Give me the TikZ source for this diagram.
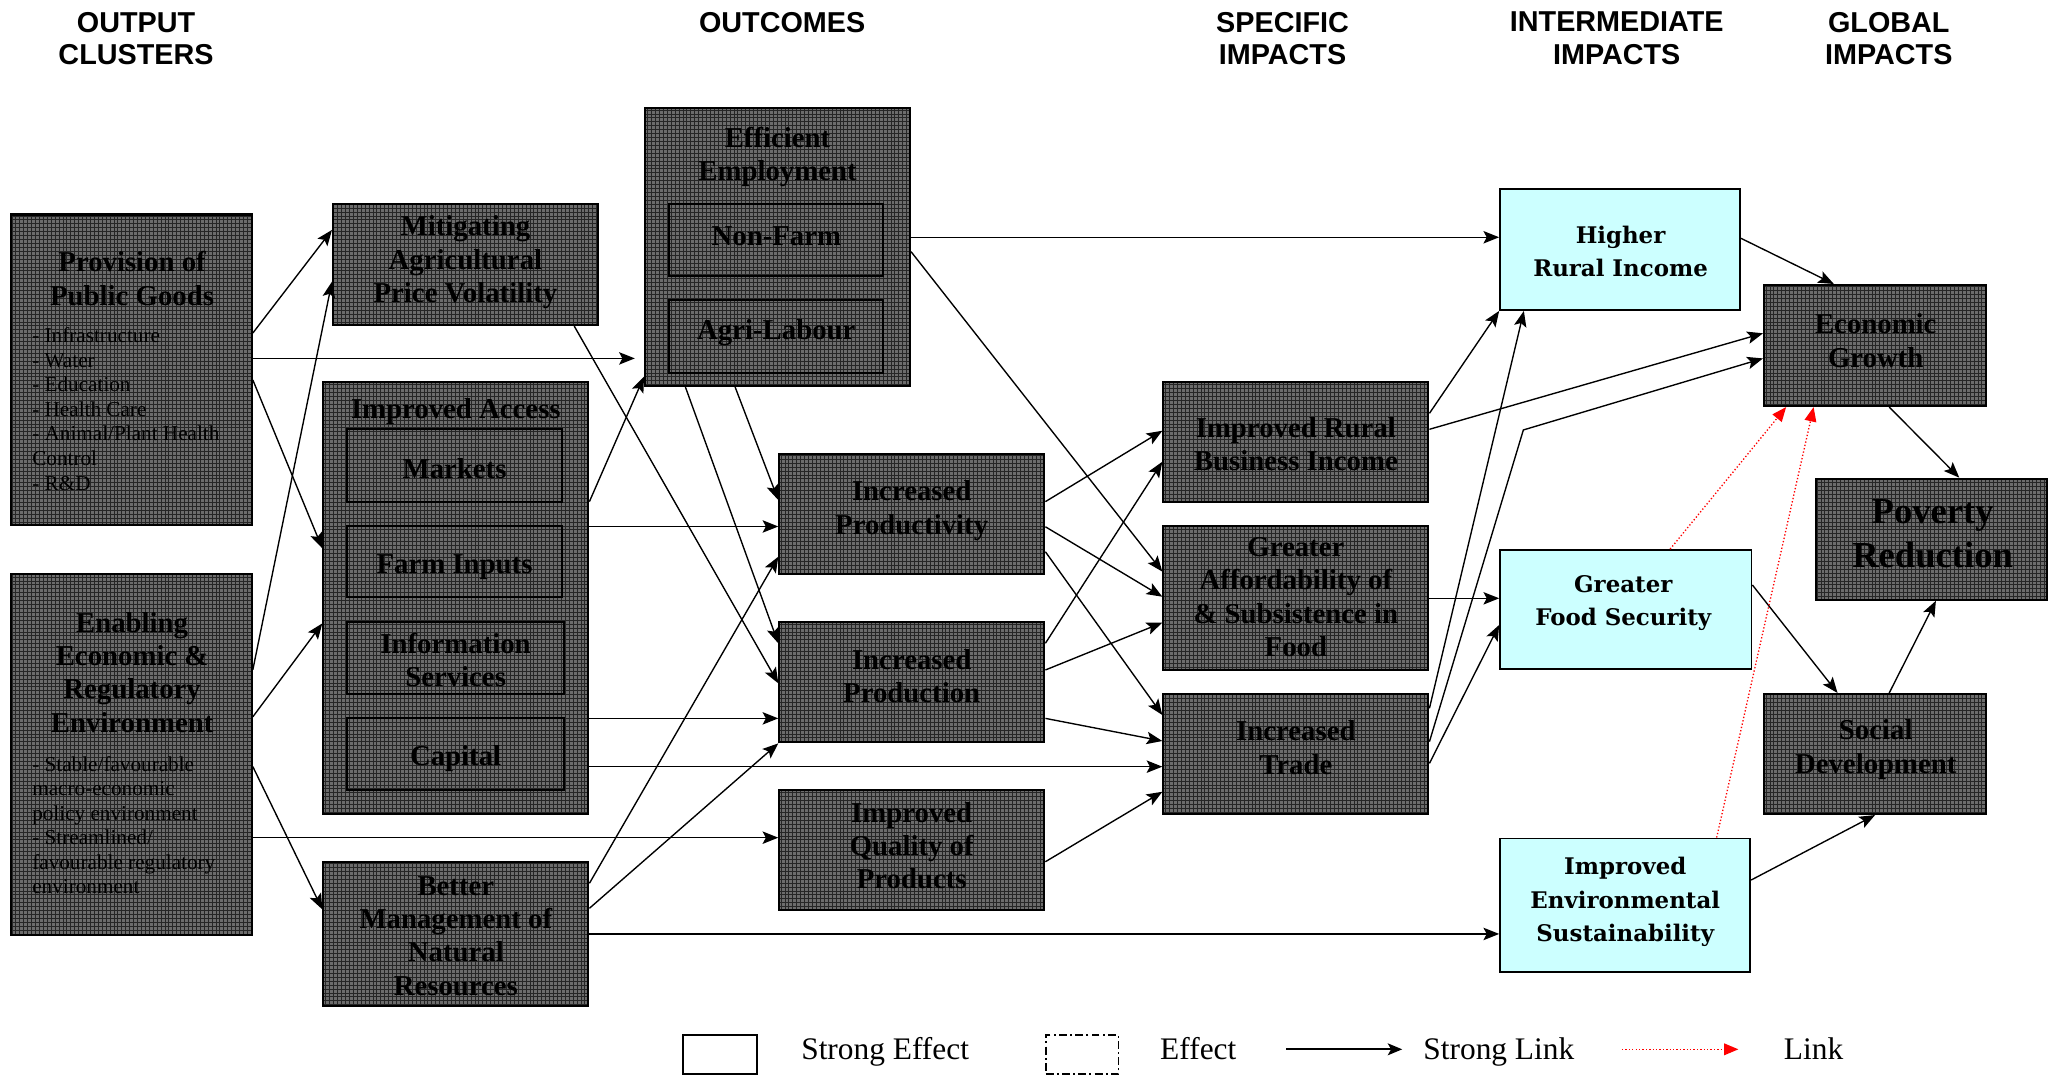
\documentclass[tikz,border=0pt]{standalone}
\usepackage{fontspec}
\setmainfont{Liberation Serif}
\newfontfamily\hdrfont{Liberation Sans}
\newfontfamily\cyfont{DejaVu Serif}
\usetikzlibrary{arrows.meta,patterns,fit}
\definecolor{boxgray}{RGB}{108,108,108}
\definecolor{lcyan}{RGB}{204,255,255}
\tikzset{
 dbox/.style={draw=black, line width=1.6pt, preaction={fill=boxgray}, preaction={pattern=grid, pattern color=black!85}, inner sep=0pt},
 ibox/.style={draw=black, line width=1.5pt, preaction={fill=boxgray}, preaction={pattern=grid, pattern color=black!85}, inner sep=0pt},
 cbox/.style={draw=black, line width=1.4pt, fill=lcyan, inner sep=0pt},
 ttl/.style={font=\fontsize{22}{25.5}\selectfont\bfseries, align=center, inner sep=0pt},
 bigttl/.style={font=\fontsize{28}{33}\selectfont\bfseries, align=center, inner sep=0pt},
 lst/.style={font=\fontsize{16.2}{18.75}\selectfont, align=left, inner sep=0pt, anchor=north west},
 ctxt/.style={font=\cyfont\bfseries\fontsize{17.5}{25.5}\selectfont, align=center, inner sep=0pt},
 hdr/.style={font=\hdrfont\bfseries\fontsize{22}{25}\selectfont, align=center, inner sep=0pt},
 lgd/.style={font=\fontsize{24}{24}\selectfont, anchor=base west, inner sep=0pt},
 lnk/.style={line width=1.05pt, -{Stealth[length=12pt,width=9.5pt,inset=2.5pt]}},
 rlnk/.style={line width=1pt, red, dash pattern=on 1pt off 1.6pt, -{Triangle[length=11pt,width=9pt]}},
}
\begin{document}
\begin{tikzpicture}[x=1pt,y=-1pt]
\useasboundingbox (0,0) rectangle (1568,822);

% headers
\node[hdr] (h1) at (104,29.5) {OUTPUT\\CLUSTERS};
\node[hdr] (h2) at (598,17) {OUTCOMES};
\node[hdr] (h3) at (980.5,29.5) {SPECIFIC\\IMPACTS};
\node[hdr] (h4) at (1236,29.5) {INTERMEDIATE\\IMPACTS};
\node[hdr] (h5) at (1444,29.5) {GLOBAL\\IMPACTS};

% output clusters
\node[dbox, fit={(8.5,164) (192.5,401.5)}] (prov) {};
\node[dbox, fit={(8.5,438.5) (192.5,714.8)}] (enab) {};
% outputs
\node[dbox, fit={(254.6,156) (457,248.5)}] (mitig) {};
\node[dbox, fit={(247.2,291.8) (449.8,622.3)}] (access) {};
\node[ibox, fit={(265.5,328.2) (429.4,383.5)}] (markets) {};
\node[ibox, fit={(265.5,401.9) (429.4,456.7)}] (farm) {};
\node[ibox, fit={(265.5,475.3) (431.2,530.6)}] (info) {};
\node[ibox, fit={(265.5,548.7) (431.2,604)}] (capital) {};
\node[dbox, fit={(247.2,658.8) (449.8,769.1)}] (manage) {};
% outcomes
\node[dbox, fit={(493.1,82.8) (695.7,295.1)}] (employ) {};
\node[ibox, fit={(511.7,156.2) (675.3,211)}] (nonfarm) {};
\node[ibox, fit={(511.7,229.4) (675.3,284.9)}] (agri) {};
\node[dbox, fit={(595.8,347.1) (798.4,438.8)}] (prodvty) {};
\node[dbox, fit={(595.8,475.3) (798.4,567.5)}] (prodn) {};
\node[dbox, fit={(595.8,604) (798.4,695.7)}] (quality) {};
% specific impacts
\node[dbox, fit={(889.4,291.8) (1092,384)}] (rbi) {};
\node[dbox, fit={(889.4,401.9) (1092,512.2)}] (afford) {};
\node[dbox, fit={(889.4,530.6) (1092,622.3)}] (trade) {};
% intermediate impacts
\node[cbox, fit={(1146.8,144.7) (1330.3,237)}] (hri) {};
\node[cbox, fit={(1146.8,420.5) (1339,511.7)}] (gfs) {};
\node[cbox, fit={(1146.8,641) (1338,742.9)}] (ies) {};
% global impacts
\node[dbox, fit={(1348.6,217.9) (1518,310.4)}] (eg) {};
\node[dbox, fit={(1388.5,366) (1565,458.5)}] (pov) {};
\node[dbox, fit={(1348.6,530.6) (1518,622.3)}] (soc) {};

% texts
\node[ttl] (provT) at (101,213) {Provision of\\Public Goods};
\node[lst] (provL) at (24.5,250.5) {- Infrastructure\\- Water\\- Education\\- Health Care\\- Animal/Plant Health\\Control\\- R\&D};
\node[ttl] (enabT) at (101,514) {Enabling\\Economic \&\\Regulatory\\Environment};
\node[lst] (enabL) at (24.5,578) {- Stable/favourable\\macro-economic\\policy environment\\- Streamlined/\\favourable regulatory\\environment};
\node[ttl] (mitigT) at (355.8,200.6) {Mitigating\\Agricultural\\Price Volatility};
\node[ttl] (accessT) at (348.5,315) {Improved Access};
\node[ttl] (marketsT) at (347.5,358) {Markets};
\node[ttl] (farmT) at (347.5,433.5) {Farm Inputs};
\node[ttl] (infoT) at (348.3,504.5) {Information\\Services};
\node[ttl] (capitalT) at (348.3,580) {Capital};
\node[ttl] (manageT) at (348.5,715.5) {Better\\Management of\\Natural\\Resources};
\node[ttl] (employT) at (594.4,120) {Efficient\\Employment};
\node[ttl] (nonfarmT) at (593.5,180.5) {Non-Farm};
\node[ttl] (agriT) at (593.5,254) {Agri-Labour};
\node[ttl] (prodvtyT) at (697,390.5) {Increased\\Productivity};
\node[ttl] (prodnT) at (697,517) {Increased\\Production};
\node[ttl] (qualityT) at (697,646.5) {Improved\\Quality of\\Products};
\node[ttl] (rbiT) at (990.7,339.5) {Improved Rural\\Business Income};
\node[ttl] (affordT) at (990.7,456.5) {Greater\\Affordability of\\\& Subsistence in\\Food};
\node[ttl] (tradeT) at (990.7,571.5) {Increased\\Trade};
\node[ctxt] (hriT) at (1238.9,192) {Higher\\Rural Income};
\node[ctxt] (gfsT) at (1241,461) {Greater\\Food Security};
\node[ctxt] (iesT) at (1242.5,689.5) {Improved\\Environmental\\Sustainability};
\node[ttl] (egT) at (1434,260.4) {Economic\\Growth};
\node[bigttl] (povT) at (1477.5,408) {Poverty\\Reduction};
\node[ttl] (socT) at (1434,573) {Social\\Development};

% connectors
\draw[lnk] (prov.east |- 0,254.6) -- (mitig.west |- 0,175.8);
\draw[lnk, shorten >=7pt] (prov.east |- 0,274) -- (employ.west |- 0,274);
\draw[lnk] (prov.east |- 0,290.5) -- (access.west |- 0,419.2);
\draw[lnk] (enab.east |- 0,512) -- (mitig.west |- 0,215.3);
\draw[lnk] (enab.east |- 0,548) -- (access.west |- 0,476.6);
\draw[lnk] (enab.east |- 0,586.1) -- (manage.west |- 0,695.2);
\draw[lnk] (enab.east |- 0,640.4) -- (quality.west |- 0,640.4);
\draw[lnk] (439,0 |- mitig.south) -- (prodn.west |- 0,522.4);
\draw[lnk] (access.east |- 0,383.5) -- (employ.west |- 0,288);
\draw[lnk] (access.east |- 0,402.5) -- (prodvty.west |- 0,402.5);
\draw[lnk] (access.east |- 0,549.2) -- (prodn.west |- 0,549.2);
\draw[lnk] (access.east |- 0,586.1) -- (trade.west |- 0,586.1);
\draw[lnk] (manage.east |- 0,675.3) -- (prodvty.west |- 0,425.6);
\draw[lnk] (manage.east |- 0,694.4) -- (prodn.south west);
\draw[lnk] (manage.east |- 0,714) -- (ies.west |- 0,714);
\draw[lnk] (524,0 |- employ.south) -- (prodn.west |- 0,491.8);
\draw[lnk] (562,0 |- employ.south) -- (prodvty.west |- 0,382.3);
\draw[lnk] (employ.east |- 0,181.4) -- (hri.west |- 0,181.4);
\draw[lnk] (employ.east |- 0,192.4) -- (afford.west |- 0,437);
\draw[lnk] (prodvty.east |- 0,383.5) -- (rbi.west |- 0,329.3);
\draw[lnk] (prodvty.east |- 0,402.7) -- (afford.west |- 0,456.2);
\draw[lnk] (prodvty.east |- 0,421.8) -- (trade.west |- 0,546.6);
\draw[lnk] (prodn.east |- 0,491.8) -- (rbi.west |- 0,353);
\draw[lnk] (prodn.east |- 0,512.2) -- (afford.west |- 0,476);
\draw[lnk] (prodn.east |- 0,549.2) -- (trade.west |- 0,566.5);
\draw[lnk] (quality.east |- 0,658.8) -- (trade.west |- 0,605.3);
\draw[lnk] (rbi.east |- 0,316) -- (hri.south west);
\draw[lnk] (rbi.east |- 0,328.2) -- (eg.west |- 0,254.8);
\draw[lnk] (afford.east |- 0,457.4) -- (gfs.west |- 0,457.4);
\draw[lnk] (trade.east |- 0,541.5) -- (1165,0 |- hri.south);
\coordinate (bend) at (1164.6,328.7);
\draw[lnk] (trade.east |- 0,567) -- (bend) -- (eg.west |- 0,274);
\draw[lnk] (trade.east |- 0,583.6) -- (gfs.west |- 0,477.8);
\draw[lnk] (hri.east |- 0,182.2) -- (1402,0 |- eg.north);
\draw[lnk] (gfs.east |- 0,447.2) -- (1404.8,0 |- soc.north);
\draw[lnk] (ies.east |- 0,672.8) -- (1433.5,0 |- soc.south);
\draw[lnk] (1444.3,0 |- eg.south) -- (1497.9,0 |- pov.north);
\draw[lnk] (1444.3,0 |- soc.north) -- (1480,0 |- pov.south);
\draw[rlnk] (1276.8,0 |- gfs.north) -- (1365.5,0 |- eg.south);
\draw[rlnk] (1312.4,0 |- ies.north) -- (1386.5,0 |- eg.south);

% legend
\node[draw=black, line width=1.4pt, inner sep=0pt, fit={(522.3,791.3) (578.8,821)}] (lgs) {};
\node[lgd] (lgsT) at (612.4,810) {Strong Effect};
\node[draw=black, line width=1.4pt, dash pattern=on 6pt off 2.5pt on 1.5pt off 2.5pt, inner sep=0pt, fit={(799.4,791.3) (855.1,821)}] (lge) {};
\node[lgd] (lgeT) at (886.8,810) {Effect};
\coordinate (ls1) at (983.2,802.2);
\coordinate (ls2) at (1072,802.2);
\draw[line width=1.8pt, -{Stealth[length=11pt,width=9pt,inset=2.5pt]}] (ls1) -- (ls2);
\node[lgd] (lslT) at (1088,810) {Strong Link};
\coordinate (lr1) at (1240,802.2);
\coordinate (lr2) at (1329,802.2);
\draw[rlnk] (lr1) -- (lr2);
\node[lgd] (lrT) at (1363.6,810) {Link};
\end{tikzpicture}
\end{document}
